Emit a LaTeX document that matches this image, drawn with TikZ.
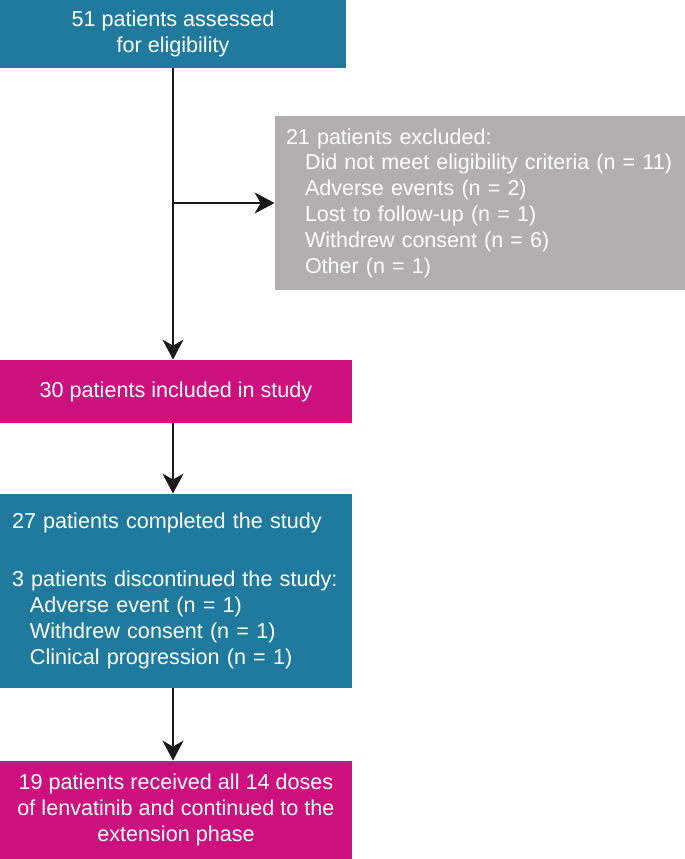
\documentclass[tikz,border=0pt]{standalone}
\usepackage{fontspec}
\setmainfont{Liberation Sans}
\usetikzlibrary{arrows.meta}

\definecolor{boxteal}{HTML}{1F7A9E}
\definecolor{boxpink}{HTML}{CC107D}
\definecolor{boxgrey}{HTML}{B1AFAF}

\tikzset{
  flowbox/.style={fill=#1,text=white,inner sep=0pt,font=\fontsize{10.8pt}{13pt}\selectfont},
  flowarrow/.style={-{Stealth[length=10pt,width=10.5pt,inset=3pt]},line width=1pt,black!90}
}

\begin{document}
\begin{tikzpicture}[x=0.5pt,y=-0.5pt]
\useasboundingbox (0,0) rectangle (685,859);

% The boxes
\node (assessed) at (173,34) [flowbox=boxteal,minimum width=173pt,minimum height=34pt,align=center] {51 patients assessed\\for eligibility};
\node (excluded) at (480,203) [flowbox=boxgrey,inner xsep=5.5pt,text width=194pt,minimum height=87pt,align=left,font=\fontsize{10.75pt}{12.9pt}\selectfont]
  {21 patients excluded:\\
   \hspace*{9.5pt}Did not meet eligibility criteria (n~=~11)\\
   \hspace*{9.5pt}Adverse events (n = 2)\\
   \hspace*{9.5pt}Lost to follow-up (n = 1)\\
   \hspace*{9.5pt}Withdrew consent (n = 6)\\
   \hspace*{9.5pt}Other (n = 1)};
\node (included) at (176,391.5) [flowbox=boxpink,minimum width=176pt,minimum height=31.5pt] {30 patients included in study};
\node (completed) at (176,591) [flowbox=boxteal,inner xsep=6pt,text width=164pt,minimum height=97pt,align=left]
  {27 patients completed the study\\[16pt]
   3 patients discontinued the study:\\
   \hspace*{9pt}Adverse event (n = 1)\\
   \hspace*{9pt}Withdrew consent (n = 1)\\
   \hspace*{9pt}Clinical progression (n = 1)};
\node (extension) at (176,810) [flowbox=boxpink,minimum width=176pt,minimum height=49pt,align=center]
  {19 patients received all 14 doses\\of lenvatinib and continued to the\\extension phase};

% The arrows
\coordinate (branch) at (assessed.south |- excluded.west);
\draw[flowarrow] (assessed.south) -- (assessed.south |- included.north);
\draw[flowarrow] (branch) -- (excluded.west);
\draw[flowarrow] (included.south -| assessed.south) -- (completed.north -| assessed.south);
\draw[flowarrow] (completed.south -| assessed.south) -- (extension.north -| assessed.south);

\end{tikzpicture}
\end{document}
